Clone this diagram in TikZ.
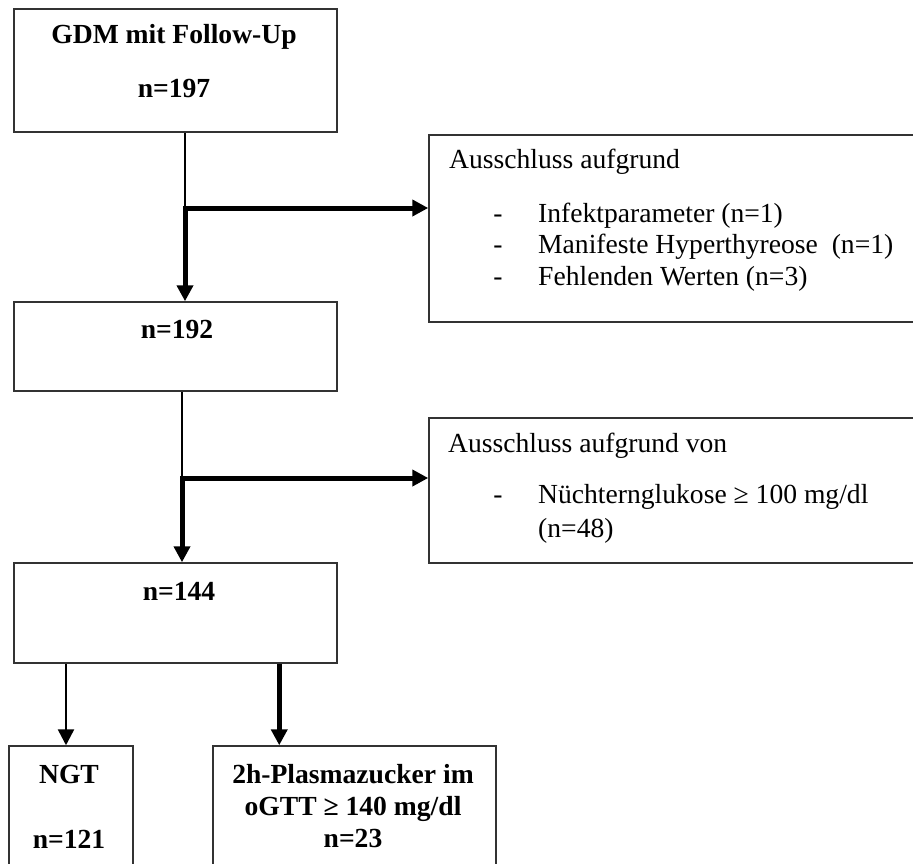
\documentclass[tikz,border=0pt]{standalone}
\usepackage{fontspec}
\setmainfont{Liberation Serif}
\usepackage{tikz}
\usetikzlibrary{arrows.meta}
\tikzset{
  flowbox/.style={draw=black!80, line width=1.5pt, inner sep=0pt},
  boldlbl/.style={font=\bfseries, inner sep=0pt, anchor=base},
  plainlbl/.style={inner sep=0pt, anchor=base west},
  thinline/.style={line width=2.5pt},
  thinarrow/.style={line width=2.5pt, -{Triangle[length=16pt,width=16pt]}},
  bigarrow/.style={line width=5pt, -{Triangle[length=16pt,width=16pt]}}
}
\newcommand{\dashitem}[3]{\node[inner sep=0pt, anchor=base] at (498, #1) {-};
  \node[plainlbl] (#2) at (538, #1) {#3};}

\begin{document}
\begin{tikzpicture}[x=1pt, y=-1pt]
  \fontsize{27.6}{31.7}\selectfont
  \useasboundingbox (0,0) rectangle (913,863);
  \clip (0,0) rectangle (913,863);

  % left column
  \node[flowbox, minimum width=323pt, minimum height=123pt] (gdm) at (175.5,70.5) {};
  \node[flowbox, minimum width=323pt, minimum height=89pt] (n192) at (175.5,346.5) {};
  \node[flowbox, minimum width=323pt, minimum height=100pt] (n144) at (175.5,613) {};
  \node[boldlbl] (gdmtxt) at (174,43) {GDM mit Follow-Up};
  \node[boldlbl] (gdmn) at (174,97) {n=197};
  \node[boldlbl] (n192txt) at (177,338) {n=192};
  \node[boldlbl] (n144txt) at (179,600) {n=144};

  % exclusions
  \node[flowbox, minimum width=501pt, minimum height=187pt] (exclA) at (679.5,228.5) {};
  \node[flowbox, minimum width=501pt, minimum height=145pt] (exclB) at (679.5,490.5) {};
  \node[plainlbl] (exclAtxt) at (449,168) {Ausschluss aufgrund};
  \dashitem{222}{infekt}{Infektparameter (n=1)}
  \dashitem{253}{hyper}{Manifeste Hyperthyreose~ (n=1)}
  \dashitem{285}{fehlend}{Fehlenden Werten (n=3)}
  \node[plainlbl] (exclBtxt) at (448,452) {Ausschluss aufgrund von};
  \dashitem{503}{nuechtern}{Nüchternglukose ≥ 100 mg/dl}
  \node[plainlbl] (nuechternn) at (538,537) {(n=48)};

  % bottom row
  \node[flowbox, minimum width=124pt, minimum height=134pt] (ngt) at (71,813) {};
  \node[flowbox, minimum width=283pt, minimum height=134pt] (ogtt) at (354.5,813) {};
  \node[boldlbl] (ngttxt) at (69,783) {NGT};
  \node[boldlbl] (ngtn) at (69,848) {n=121};
  \node[boldlbl] (ogtttxt) at (353,783) {2h-Plasmazucker im};
  \node[boldlbl] (ogttval) at (353,815) {oGTT ≥ 140 mg/dl};
  \node[boldlbl] (ogttn) at (353,847) {n=23};

  % arrows
  \coordinate (splitA) at (185,208);
  \coordinate (splitB) at (182,478);
  \draw[thinline] (splitA |- gdm.south) -- (splitA);
  \draw[bigarrow] (splitA) -- (splitA |- n192.north);
  \draw[bigarrow] ([xshift=-2pt]splitA) -- (splitA -| exclA.west);
  \draw[thinline] (splitB |- n192.south) -- (splitB);
  \draw[bigarrow] (splitB) -- (splitB |- n144.north);
  \draw[bigarrow] ([xshift=-2pt]splitB) -- (splitB -| exclB.west);
  \draw[thinarrow] ([xshift=-5pt]ngt.north |- n144.south) -- ([xshift=-5pt]ngt.north);
  \draw[bigarrow] ([xshift=67pt]ogtt.north west |- n144.south) -- ([xshift=67pt]ogtt.north west);
\end{tikzpicture}
\end{document}
